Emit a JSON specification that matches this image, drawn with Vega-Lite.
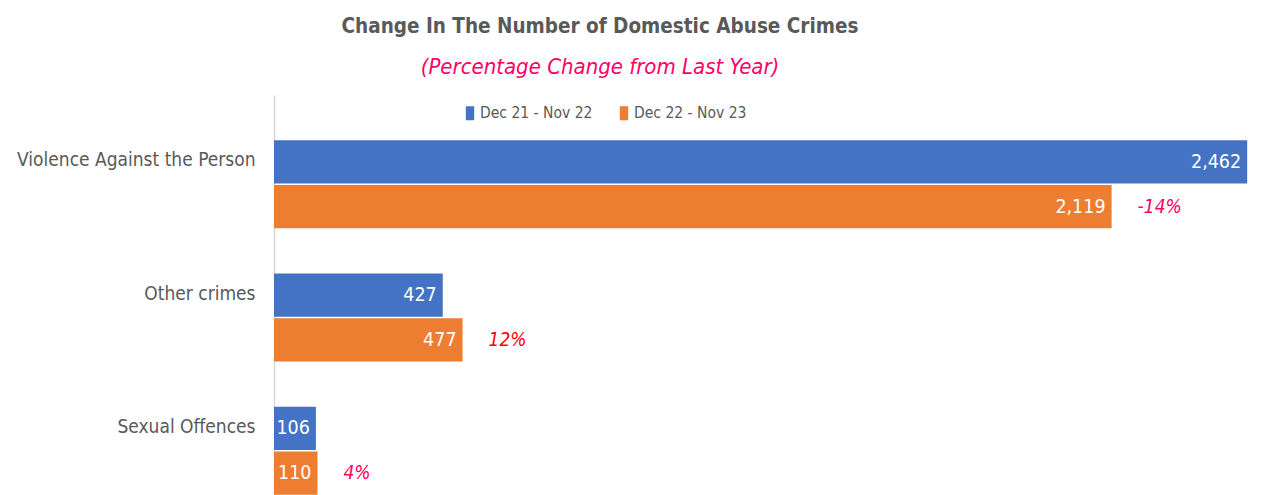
{
  "$schema": "https://vega.github.io/schema/vega-lite/v6.json",
  "autosize": "none",
  "width": 1006,
  "height": 445,
  "padding": {"left": 274, "top": 95, "right": 0, "bottom": 0},
  "background": "white",
  "config": {
    "font": "DejaVu Sans Condensed, sans-serif",
    "view": {"stroke": null}
  },
  "title": {
    "text": "Change In The Number of Domestic Abuse Crimes",
    "subtitle": "(Percentage Change from Last Year)",
    "anchor": "middle",
    "frame": "group",
    "dx": -177,
    "offset": 17,
    "font": "DejaVu Sans Condensed, sans-serif",
    "fontSize": 20.5,
    "fontWeight": "bold",
    "color": "#595959",
    "subtitleFont": "DejaVu Sans Condensed, sans-serif",
    "subtitleFontSize": 22,
    "subtitleFontStyle": "italic",
    "subtitleColor": "#ff0066",
    "subtitlePadding": 20
  },
  "data": {
    "values": [
      {"category": "Violence Against the Person", "period": "Dec 21 - Nov 22", "value": 2462, "change": null},
      {"category": "Violence Against the Person", "period": "Dec 22 - Nov 23", "value": 2119, "change": "-14%"},
      {"category": "Other crimes", "period": "Dec 21 - Nov 22", "value": 427, "change": null},
      {"category": "Other crimes", "period": "Dec 22 - Nov 23", "value": 477, "change": "12%"},
      {"category": "Sexual Offences", "period": "Dec 21 - Nov 22", "value": 106, "change": null},
      {"category": "Sexual Offences", "period": "Dec 22 - Nov 23", "value": 110, "change": "4%"}
    ]
  },
  "encoding": {
    "y": {
      "field": "category",
      "type": "nominal",
      "sort": ["Violence Against the Person", "Other crimes", "Sexual Offences"],
      "scale": {"paddingInner": 0.34, "paddingOuter": 0.34},
      "axis": {
        "title": null,
        "ticks": false,
        "domainColor": "#d9d9d9",
        "domainWidth": 1.5,
        "labelPadding": 19,
        "labelOffset": -24,
        "labelFontSize": 19,
        "labelColor": "#595959",
        "labelLimit": 400
      }
    },
    "yOffset": {
      "field": "period",
      "type": "nominal",
      "scale": {"paddingInner": 0.03}
    },
    "x": {
      "field": "value",
      "type": "quantitative",
      "scale": {"domain": [0, 2545]},
      "axis": null
    }
  },
  "layer": [
    {
      "mark": {"type": "bar"},
      "encoding": {
        "color": {
          "field": "period",
          "type": "nominal",
          "scale": {"domain": ["Dec 21 - Nov 22", "Dec 22 - Nov 23"], "range": ["#4472c4", "#ed7d31"]},
          "legend": {
            "title": null,
            "orient": "none",
            "direction": "horizontal",
            "legendX": 182,
            "legendY": 4,
            "symbolType": "M-0.3,-0.5H0.3V0.5H-0.3Z",
            "symbolSize": 784,
            "symbolStrokeWidth": 0,
            "symbolOpacity": 1,
            "labelOffset": -4,
            "labelFontSize": 15.5,
            "labelColor": "#595959",
            "columnPadding": 17
          }
        }
      }
    },
    {
      "mark": {"type": "text", "align": "right", "baseline": "middle", "dx": -6, "fontSize": 19.5, "color": "white"},
      "encoding": {
        "text": {"field": "value", "type": "quantitative", "format": ","}
      }
    },
    {
      "transform": [{"filter": "datum.change != null"}],
      "mark": {"type": "text", "align": "left", "baseline": "middle", "dx": 26, "fontSize": 19, "fontStyle": "italic"},
      "encoding": {
        "text": {"field": "change", "type": "nominal"},
        "color": {
          "condition": {"test": "datum.change == '12%'", "value": "#ff0000"},
          "value": "#ff0066"
        }
      }
    }
  ]
}
